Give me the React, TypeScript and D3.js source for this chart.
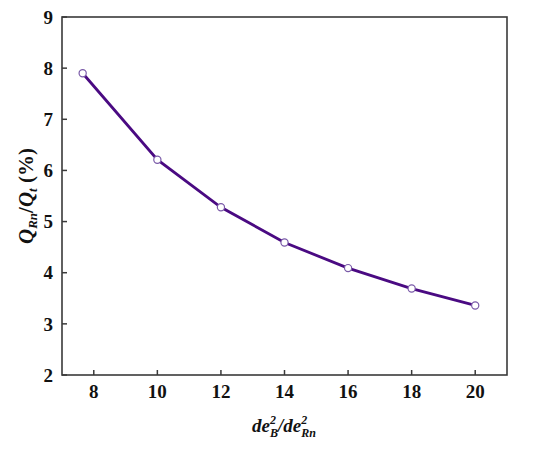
import * as d3 from "d3";

const ratios = [7.65, 10, 12, 14, 16, 18, 20];
const shares = [7.9, 6.21, 5.28, 4.59, 4.09, 3.69, 3.36];
const xTicks = [8, 10, 12, 14, 16, 18, 20];
const yTicks = [2, 3, 4, 5, 6, 7, 8, 9];

const W = 550;
const H = 455;
const m = { left: 62, right: 43, top: 17, bottom: 80 };
const font = '"Liberation Serif", "Times New Roman", serif';

export default function App() {
  const x = d3.scaleLinear().domain([7, 21]).range([m.left, W - m.right]);
  const y = d3.scaleLinear().domain([2, 9]).range([H - m.bottom, m.top]);
  const line = d3
    .line<number>()
    .x((_, i) => x(ratios[i]))
    .y((d) => y(d));

  const axisColor = "#3a3a3a";
  const midY = (y(2) + y(9)) / 2;

  return (
    <div style={{ position: "fixed", left: 0, top: 0 }}>
      <svg width={W} height={H} style={{ display: "block", background: "#fff", fontFamily: font }}>
        <rect
          x={m.left}
          y={m.top}
          width={W - m.left - m.right}
          height={H - m.top - m.bottom}
          fill="none"
          stroke={axisColor}
          strokeWidth={1.6}
        />
        {xTicks.map((t) => (
          <g key={"x" + t}>
            <line x1={x(t)} x2={x(t)} y1={y(2)} y2={y(2) - 5} stroke={axisColor} strokeWidth={1.5} />
            <text x={x(t)} y={398} textAnchor="middle" fontWeight="bold" fontSize={19} fill="#111">
              {t}
            </text>
          </g>
        ))}
        {yTicks.map((t) => (
          <g key={"y" + t}>
            <line x1={x(7)} x2={x(7) + 5} y1={y(t)} y2={y(t)} stroke={axisColor} strokeWidth={1.5} />
            <text x={53} y={y(t)} dy="0.35em" textAnchor="end" fontWeight="bold" fontSize={19} fill="#111">
              {t}
            </text>
          </g>
        ))}
        <path d={line(shares) ?? ""} fill="none" stroke="#4a0a82" strokeWidth={2.8} />
        {shares.map((v, i) => (
          <circle
            key={"p" + i}
            cx={x(ratios[i])}
            cy={y(v)}
            r={3.6}
            fill="#fff"
            stroke="#7a5aa8"
            strokeWidth={1.2}
          />
        ))}
        <text
          transform={`translate(33,${midY}) rotate(-90)`}
          textAnchor="middle"
          fontWeight="bold"
          fontSize={21}
          fill="#111"
        >
          <tspan fontStyle="italic">Q</tspan>
          <tspan fontStyle="italic" fontSize={13} dy={4}>Rn</tspan>
          <tspan dy={-4}>/</tspan>
          <tspan fontStyle="italic">Q</tspan>
          <tspan fontStyle="italic" fontSize={13} dy={4}>t</tspan>
          <tspan dy={-4}> (%)</tspan>
        </text>
        <text x={284} y={432} textAnchor="middle" fontWeight="bold" fontStyle="italic" fontSize={19} fill="#111">
          <tspan>de</tspan>
          <tspan fontSize={12} dy={-8}>2</tspan>
          <tspan fontSize={12} dx={-6} dy={13}>B</tspan>
          <tspan dy={-5}>/de</tspan>
          <tspan fontSize={12} dy={-8}>2</tspan>
          <tspan fontSize={12} dx={-6} dy={13}>Rn</tspan>
        </text>
      </svg>
    </div>
  );
}
